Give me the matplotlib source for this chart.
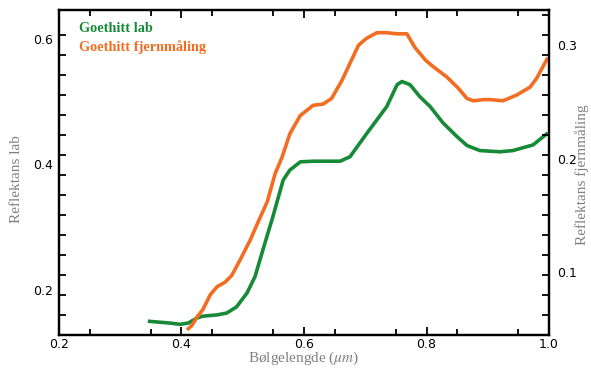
import numpy as np
import matplotlib
matplotlib.use('Agg')
import matplotlib.pyplot as plt
from matplotlib.ticker import FixedLocator

plt.rcParams['mathtext.fontset'] = 'stix'

# goethite spectra: lab measurement (left axis) and remote sensing (right axis)
lab_wl = [0.345, 0.381, 0.398, 0.411, 0.425, 0.435, 0.458, 0.474, 0.490, 0.507,
          0.520, 0.533, 0.549, 0.566, 0.577, 0.594, 0.615, 0.640, 0.659, 0.675,
          0.703, 0.719, 0.735, 0.752, 0.760, 0.773, 0.789, 0.806, 0.827, 0.850,
          0.866, 0.887, 0.920, 0.941, 0.974, 0.998]
lab_refl = [0.150, 0.147, 0.145, 0.147, 0.155, 0.158, 0.160, 0.163, 0.173, 0.195,
            0.221, 0.264, 0.316, 0.375, 0.391, 0.404, 0.405, 0.405, 0.405, 0.412,
            0.450, 0.471, 0.492, 0.527, 0.532, 0.527, 0.508, 0.492, 0.466, 0.444,
            0.430, 0.422, 0.420, 0.422, 0.431, 0.450]

rs_wl = [0.409, 0.417, 0.425, 0.435, 0.447, 0.458, 0.471, 0.482, 0.496, 0.512,
         0.525, 0.540, 0.553, 0.564, 0.577, 0.594, 0.615, 0.631, 0.645, 0.662,
         0.675, 0.689, 0.702, 0.719, 0.735, 0.752, 0.768, 0.781, 0.798, 0.811,
         0.833, 0.852, 0.866, 0.876, 0.893, 0.904, 0.925, 0.947, 0.969, 0.980,
         0.998]
rs_refl = [0.049, 0.053, 0.060, 0.067, 0.080, 0.087, 0.091, 0.097, 0.111, 0.128,
           0.144, 0.162, 0.187, 0.201, 0.222, 0.238, 0.247, 0.248, 0.253, 0.269,
           0.284, 0.300, 0.306, 0.311, 0.311, 0.310, 0.310, 0.298, 0.287, 0.281,
           0.272, 0.262, 0.253, 0.251, 0.252, 0.252, 0.251, 0.256, 0.263, 0.271,
           0.289]

green = '#178a38'
orange = '#f26d21'
grey = '#808080'

fig = plt.figure(figsize=(5.91, 3.68), dpi=100)
ax = fig.add_axes([0.0998, 0.0897, 0.8292, 0.8831])
ax2 = ax.twinx()

ax.plot(lab_wl, lab_refl, color=green, lw=2.6, solid_capstyle='butt')
ax2.plot(rs_wl, rs_refl, color=orange, lw=2.6, solid_capstyle='butt')

ax.set_xlim(0.2, 1.0)
ax.set_ylim(0.128, 0.646)
ax2.set_ylim(0.0445, 0.331)

for a in (ax, ax2):
    for s in a.spines.values():
        s.set_linewidth(1.6)

ax.set_xticks([0.2, 0.4, 0.6, 0.8, 1.0])
ax.set_xticklabels(['0.2', '0.4', '0.6', '0.8', '1.0'])
ax.xaxis.set_minor_locator(FixedLocator(np.arange(0.25, 1.0, 0.1)))
ax.tick_params(axis='x', which='major', direction='in', length=6, width=1.3,
               top=True, labelsize=9, pad=2)
ax.tick_params(axis='x', which='minor', direction='in', length=4, width=1.3, top=True)

# y tick marks sit every 20 px, labels are placed independently
lo, hi = ax.get_ylim()
ax.set_yticks([0.2, 0.4, 0.6])
ax.set_yticklabels(['0.2', '0.4', '0.6'])
ax.yaxis.set_minor_locator(FixedLocator(lo + (hi - lo) * np.arange(1, 16) * 20 / 325))
ax.tick_params(axis='y', which='major', direction='in', length=0, labelsize=9, pad=4.5)
ax.tick_params(axis='y', which='minor', direction='in', length=5, width=1.3)

lo2, hi2 = ax2.get_ylim()
ax2.set_yticks([0.1, 0.2, 0.3])
ax2.set_yticklabels(['0.1', '0.2', '0.3'])
ax2.yaxis.set_minor_locator(FixedLocator(lo2 + (hi2 - lo2) * np.arange(1, 17) * 20 / 325))
ax2.tick_params(axis='y', which='major', direction='in', length=0, labelsize=9, pad=5.5)
ax2.tick_params(axis='y', which='minor', direction='in', length=5, width=1.3)

serif = 'Liberation Serif'
ax.set_xlabel(r'Bølgelengde ($\mu m$)', fontfamily=serif, fontsize=11, color=grey)
ax.set_ylabel('Reflektans lab', fontfamily=serif, fontsize=11, color=grey)
ax2.set_ylabel('Reflektans fjernmåling', fontfamily=serif, fontsize=11, color=grey)
ax.xaxis.set_label_coords(0.5, -0.046)
ax.yaxis.set_label_coords(-0.073, 0.48)
ax2.yaxis.set_label_coords(1.053, 0.492)

ax.text(0.04, 0.942, 'Goethitt lab', transform=ax.transAxes, color=green,
        fontfamily=serif, fontweight='bold', fontsize=10.3, va='center')
ax.text(0.04, 0.887, 'Goethitt fjernmåling', transform=ax.transAxes, color=orange,
        fontfamily=serif, fontweight='bold', fontsize=10.3, va='center')

fig.savefig('out.png', dpi=100)
